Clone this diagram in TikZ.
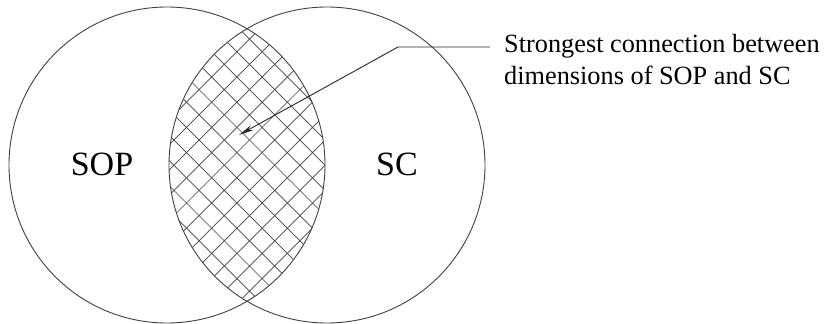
\documentclass[tikz,border=0pt]{standalone}
\usepackage{fontspec}
\setmainfont{Liberation Serif}
\usetikzlibrary{arrows.meta}
\begin{document}
\begin{tikzpicture}[x=1pt,y=-1pt,
  ring/.style={circle,draw=black!75,line width=0.9pt,minimum size=316pt,inner sep=0pt},
  hatch/.style={draw=black!75,line width=0.7pt},
  setlabel/.style={font=\fontsize{34}{38}\selectfont,inner sep=0pt},
  callout/.style={font=\fontsize{26.3}{32.5}\selectfont,inner sep=0pt,align=left,anchor=north west},
  leader/.style={draw=black!85,line width=0.9pt,-{Stealth[length=15pt,width=5.5pt]}}]
\useasboundingbox (0,0) rectangle (825,324);
\begin{scope}
  \clip (167,165) circle (158pt);
  \clip (327,165) circle (158pt);
  \foreach \k in {-16,...,16}{
    \draw[hatch] (74.3+\k*25.2,-10) -- (74.3+\k*25.2+340,330);
    \draw[hatch] (374.3+\k*25.2,-10) -- (374.3+\k*25.2-340,330);
  }
\end{scope}
\node[ring] (L) at (167,165) {};
\node[ring] (R) at (327,165) {};
\node[setlabel] (sop) at (102,164) {SOP};
\node[setlabel] (sc) at (397,164) {SC};
\node[callout] (txt) at (504,34) {Strongest connection between\\dimensions of SOP and SC};
\coordinate (start) at (490,47);
\coordinate (bend) at (398,47);
\coordinate (tip) at (239,135);
\draw[leader] (start) -- (bend) -- (tip);
\end{tikzpicture}
\end{document}
